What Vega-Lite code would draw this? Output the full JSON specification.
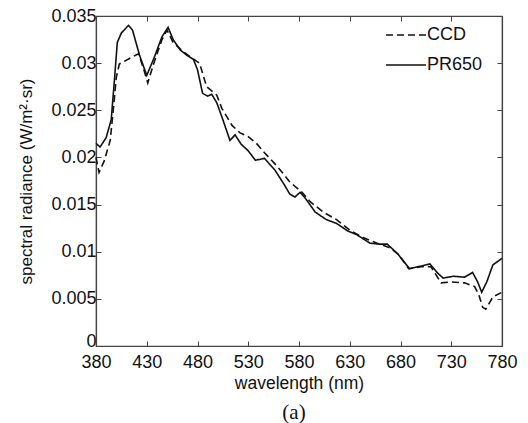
{
  "$schema": "https://vega.github.io/schema/vega-lite/v6.json",
  "width": 406,
  "height": 330,
  "autosize": {"type": "none"},
  "padding": {"left": 96, "top": 16, "right": 26, "bottom": 77},
  "background": "white",
  "config": {
    "view": {"stroke": "#444", "strokeWidth": 1.2},
    "axis": {"grid": false, "domainColor": "#444", "tickColor": "#444", "labelColor": "#111", "titleColor": "#111", "labelFont": "Liberation Sans", "titleFont": "Liberation Sans", "labelFontSize": 18, "titleFontSize": 17, "titleFontWeight": "normal", "tickSize": -5, "labelPadding": 5, "domainWidth": 1.2, "labelFlush": false, "labelOverlap": false}
  },
  "title": {"text": "(a)", "orient": "bottom", "font": "Liberation Serif", "fontSize": 21, "fontWeight": "normal", "color": "#111", "offset": 10, "dx": -5},
  "data": {"values": [
    {"nm": 380, "v": 0.0200, "s": "CCD"},
    {"nm": 383, "v": 0.0184, "s": "CCD"},
    {"nm": 388, "v": 0.0196, "s": "CCD"},
    {"nm": 394, "v": 0.0218, "s": "CCD"},
    {"nm": 397, "v": 0.0250, "s": "CCD"},
    {"nm": 400, "v": 0.0285, "s": "CCD"},
    {"nm": 403, "v": 0.0299, "s": "CCD"},
    {"nm": 413, "v": 0.0305, "s": "CCD"},
    {"nm": 422, "v": 0.0310, "s": "CCD"},
    {"nm": 428, "v": 0.0290, "s": "CCD"},
    {"nm": 431, "v": 0.0279, "s": "CCD"},
    {"nm": 437, "v": 0.0300, "s": "CCD"},
    {"nm": 445, "v": 0.0325, "s": "CCD"},
    {"nm": 450, "v": 0.0335, "s": "CCD"},
    {"nm": 456, "v": 0.0322, "s": "CCD"},
    {"nm": 465, "v": 0.0313, "s": "CCD"},
    {"nm": 475, "v": 0.0305, "s": "CCD"},
    {"nm": 482, "v": 0.0300, "s": "CCD"},
    {"nm": 489, "v": 0.0275, "s": "CCD"},
    {"nm": 499, "v": 0.0266, "s": "CCD"},
    {"nm": 504, "v": 0.0252, "s": "CCD"},
    {"nm": 514, "v": 0.0234, "s": "CCD"},
    {"nm": 522, "v": 0.0226, "s": "CCD"},
    {"nm": 530, "v": 0.0222, "s": "CCD"},
    {"nm": 538, "v": 0.0215, "s": "CCD"},
    {"nm": 546, "v": 0.0205, "s": "CCD"},
    {"nm": 559, "v": 0.0190, "s": "CCD"},
    {"nm": 571, "v": 0.0174, "s": "CCD"},
    {"nm": 583, "v": 0.0163, "s": "CCD"},
    {"nm": 591, "v": 0.0153, "s": "CCD"},
    {"nm": 604, "v": 0.0142, "s": "CCD"},
    {"nm": 617, "v": 0.0134, "s": "CCD"},
    {"nm": 630, "v": 0.0123, "s": "CCD"},
    {"nm": 643, "v": 0.0115, "s": "CCD"},
    {"nm": 657, "v": 0.0109, "s": "CCD"},
    {"nm": 670, "v": 0.0104, "s": "CCD"},
    {"nm": 679, "v": 0.0096, "s": "CCD"},
    {"nm": 688, "v": 0.0082, "s": "CCD"},
    {"nm": 700, "v": 0.0084, "s": "CCD"},
    {"nm": 710, "v": 0.0084, "s": "CCD"},
    {"nm": 720, "v": 0.0067, "s": "CCD"},
    {"nm": 730, "v": 0.0068, "s": "CCD"},
    {"nm": 743, "v": 0.0067, "s": "CCD"},
    {"nm": 753, "v": 0.0063, "s": "CCD"},
    {"nm": 757, "v": 0.0055, "s": "CCD"},
    {"nm": 761, "v": 0.0041, "s": "CCD"},
    {"nm": 764, "v": 0.0039, "s": "CCD"},
    {"nm": 771, "v": 0.0052, "s": "CCD"},
    {"nm": 780, "v": 0.0057, "s": "CCD"},
    {"nm": 380, "v": 0.0215, "s": "PR650"},
    {"nm": 384, "v": 0.0211, "s": "PR650"},
    {"nm": 390, "v": 0.0221, "s": "PR650"},
    {"nm": 395, "v": 0.0240, "s": "PR650"},
    {"nm": 398, "v": 0.0280, "s": "PR650"},
    {"nm": 401, "v": 0.0322, "s": "PR650"},
    {"nm": 405, "v": 0.0332, "s": "PR650"},
    {"nm": 412, "v": 0.0340, "s": "PR650"},
    {"nm": 416, "v": 0.0335, "s": "PR650"},
    {"nm": 423, "v": 0.0308, "s": "PR650"},
    {"nm": 430, "v": 0.0287, "s": "PR650"},
    {"nm": 437, "v": 0.0305, "s": "PR650"},
    {"nm": 445, "v": 0.0328, "s": "PR650"},
    {"nm": 451, "v": 0.0338, "s": "PR650"},
    {"nm": 456, "v": 0.0325, "s": "PR650"},
    {"nm": 463, "v": 0.0314, "s": "PR650"},
    {"nm": 470, "v": 0.0308, "s": "PR650"},
    {"nm": 476, "v": 0.0304, "s": "PR650"},
    {"nm": 480, "v": 0.0293, "s": "PR650"},
    {"nm": 485, "v": 0.0268, "s": "PR650"},
    {"nm": 490, "v": 0.0265, "s": "PR650"},
    {"nm": 494, "v": 0.0267, "s": "PR650"},
    {"nm": 499, "v": 0.0258, "s": "PR650"},
    {"nm": 505, "v": 0.0240, "s": "PR650"},
    {"nm": 512, "v": 0.0218, "s": "PR650"},
    {"nm": 517, "v": 0.0224, "s": "PR650"},
    {"nm": 523, "v": 0.0214, "s": "PR650"},
    {"nm": 530, "v": 0.0207, "s": "PR650"},
    {"nm": 537, "v": 0.0197, "s": "PR650"},
    {"nm": 546, "v": 0.0199, "s": "PR650"},
    {"nm": 556, "v": 0.0187, "s": "PR650"},
    {"nm": 565, "v": 0.0172, "s": "PR650"},
    {"nm": 571, "v": 0.0161, "s": "PR650"},
    {"nm": 576, "v": 0.0158, "s": "PR650"},
    {"nm": 581, "v": 0.0163, "s": "PR650"},
    {"nm": 586, "v": 0.0157, "s": "PR650"},
    {"nm": 596, "v": 0.0142, "s": "PR650"},
    {"nm": 607, "v": 0.0134, "s": "PR650"},
    {"nm": 617, "v": 0.0130, "s": "PR650"},
    {"nm": 628, "v": 0.0122, "s": "PR650"},
    {"nm": 637, "v": 0.0118, "s": "PR650"},
    {"nm": 650, "v": 0.0109, "s": "PR650"},
    {"nm": 660, "v": 0.0108, "s": "PR650"},
    {"nm": 667, "v": 0.0108, "s": "PR650"},
    {"nm": 677, "v": 0.0098, "s": "PR650"},
    {"nm": 689, "v": 0.0082, "s": "PR650"},
    {"nm": 697, "v": 0.0084, "s": "PR650"},
    {"nm": 709, "v": 0.0087, "s": "PR650"},
    {"nm": 716, "v": 0.0078, "s": "PR650"},
    {"nm": 722, "v": 0.0072, "s": "PR650"},
    {"nm": 732, "v": 0.0074, "s": "PR650"},
    {"nm": 743, "v": 0.0073, "s": "PR650"},
    {"nm": 751, "v": 0.0078, "s": "PR650"},
    {"nm": 756, "v": 0.0068, "s": "PR650"},
    {"nm": 760, "v": 0.0057, "s": "PR650"},
    {"nm": 765, "v": 0.0068, "s": "PR650"},
    {"nm": 771, "v": 0.0086, "s": "PR650"},
    {"nm": 780, "v": 0.0093, "s": "PR650"}
  ]},
  "layer": [
    {
      "mark": {"type": "line", "color": "#111", "strokeWidth": 1.6},
      "encoding": {
        "x": {"field": "nm", "type": "quantitative", "scale": {"domain": [380, 780], "nice": false, "zero": false}, "axis": {"values": [380, 430, 480, 530, 580, 630, 680, 730, 780], "title": "wavelength (nm)", "titleFontSize": 17.5, "labelPadding": 12, "titlePadding": 3}},
        "y": {"field": "v", "type": "quantitative", "scale": {"domain": [0, 0.035], "nice": false}, "axis": {"values": [0, 0.005, 0.01, 0.015, 0.02, 0.025, 0.03, 0.035], "labelExpr": "datum.value == 0 ? '0' : format(datum.value, '.3~f')", "labelOffset": {"condition": {"test": "datum.value == 0", "value": -5}, "value": 0}, "title": "spectral radiance (W/m²·sr)", "titlePadding": 15}},
        "strokeDash": {"field": "s", "type": "nominal", "scale": {"domain": ["CCD", "PR650"], "range": [[7, 4], [1, 0]]}, "legend": {"orient": "none", "legendX": 289, "legendY": -2, "title": null, "symbolType": "stroke", "symbolSize": 1600, "symbolStrokeColor": "#111", "symbolStrokeWidth": 1.6, "labelFont": "Liberation Sans", "labelFontSize": 18, "labelColor": "#111", "rowPadding": -4, "labelOffset": 0}}
      }
    },
    {
      "mark": {"type": "line", "opacity": 0},
      "encoding": {
        "x": {"field": "nm", "type": "quantitative", "scale": {"domain": [380, 780], "nice": false, "zero": false}, "axis": {"orient": "top", "values": [430, 480, 530, 580, 630, 680, 730], "labels": false, "title": null}},
        "y": {"field": "v", "type": "quantitative", "scale": {"domain": [0, 0.035], "nice": false}, "axis": {"orient": "right", "values": [0.005, 0.01, 0.015, 0.02, 0.025, 0.03], "labels": false, "title": null}},
        "detail": {"field": "s"}
      }
    }
  ],
  "resolve": {"axis": {"x": "independent", "y": "independent"}}
}
